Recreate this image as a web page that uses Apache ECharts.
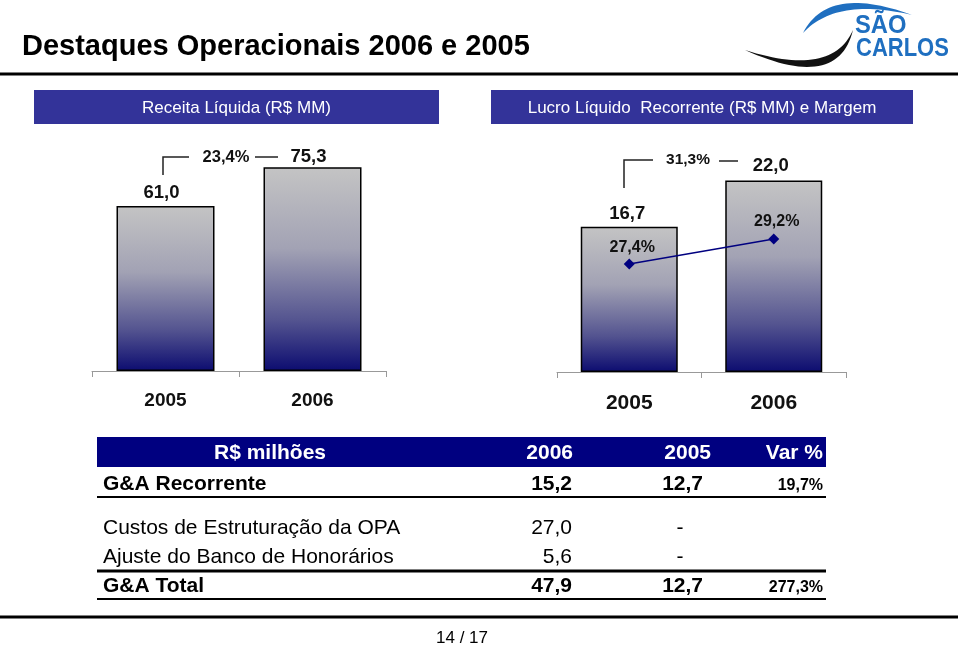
<!DOCTYPE html>
<html><head><meta charset="utf-8">
<script src="https://cdn.jsdelivr.net/npm/echarts@6/dist/echarts.min.js"></script>
<style>html,body{margin:0;padding:0;background:#fff}#c{width:960px;height:647px}</style>
</head><body><div id="c"></div>
<script>
// ---- data ----
const years = ['2005', '2006'];
const receita = [61.0, 75.3];
const lucro = [16.7, 22.0];
const margem = [27.4, 29.2];
const growthReceita = '23,4%';
const growthLucro = '31,3%';
const titleText = 'Destaques Operacionais 2006 e 2005';
const panelTitles = ['Receita Líquida (R$ MM)', 'Lucro Líquido  Recorrente (R$ MM) e Margem'];
const tableHeader = ['R$ milhões', '2006', '2005', 'Var %'];
const rowLabels = ['G&A Recorrente', 'Custos de Estruturação da OPA', 'Ajuste do Banco de Honorários', 'G&A Total'];
const rowBold = [true, false, false, true];
const col2006 = ['15,2', '27,0', '5,6', '47,9'];
const col2005 = ['12,7', '-', '-', '12,7'];
const colVar = ['19,7%', '', '', '277,3%'];
const pageText = '14 / 17';

// ---- helpers ----
const FONT = 'Liberation Sans, Arial, sans-serif';
const fmt = v => v.toFixed(1).replace('.', ',');
const barGrad = {type: 'linear', x: 0, y: 0, x2: 0, y2: 1, colorStops: [
  {offset: 0, color: '#c4c4c4'}, {offset: 0.4, color: '#a2a2b4'}, {offset: 0.75, color: '#545490'}, {offset: 1, color: '#0c0c70'}]};

function quad(p0, c, p2, n) {
  const pts = [];
  for (let i = 0; i <= n; i++) {
    const t = i / n, u = 1 - t;
    pts.push([u*u*p0[0] + 2*u*t*c[0] + t*t*p2[0], u*u*p0[1] + 2*u*t*c[1] + t*t*p2[1]]);
  }
  return pts;
}
function crescent(p0, p2, cOuter, cInner) {
  const a = quad(p0, cOuter, p2, 30);
  const b = quad(p2, cInner, p0, 30);
  return a.concat(b);
}

const chart = echarts.init(document.getElementById('c'), null, {renderer: 'canvas'});

const leftOffsets = [[-4, 1], [-4, 4]];
const rightOffsets = [[-2, 2], [-3, 0]];
const lineOffsets = [[3, 2], [3, 1]];

const graphics = [];
// title
graphics.push({type: 'text', left: 22, top: 32, style: {text: titleText, font: 'bold 29px ' + FONT, fill: '#000'}});
graphics.push({type: 'line', shape: {x1: 0, y1: 74, x2: 958, y2: 74}, style: {stroke: '#000', lineWidth: 3}});
// logo
graphics.push({type: 'polygon', shape: {points: crescent([803, 33], [912, 15], [828, -16], [836, -3])}, style: {fill: '#1f6fc0'}});
graphics.push({type: 'polygon', shape: {points: crescent([745, 50], [853, 30], [838, 92], [832, 78])}, style: {fill: '#111'}});
graphics.push({type: 'text', x: 855, y: 26, scaleX: 0.95, style: {text: 'SÃO', font: 'bold 25px ' + FONT, fill: '#1f6fc0', textVerticalAlign: 'middle'}});
graphics.push({type: 'text', x: 856, y: 49, scaleX: 0.88, style: {text: 'CARLOS', font: 'bold 25px ' + FONT, fill: '#1f6fc0', textVerticalAlign: 'middle'}});
// panel header boxes
graphics.push({type: 'rect', shape: {x: 34, y: 90, width: 405, height: 34}, style: {fill: '#333399'}});
graphics.push({type: 'rect', shape: {x: 491, y: 90, width: 422, height: 34}, style: {fill: '#333399'}});
graphics.push({type: 'text', x: 236.5, y: 108, style: {text: panelTitles[0], font: '17px ' + FONT, fill: '#fff', textAlign: 'center', textVerticalAlign: 'middle'}});
graphics.push({type: 'text', x: 702, y: 108, style: {text: panelTitles[1], font: '17px ' + FONT, fill: '#fff', textAlign: 'center', textVerticalAlign: 'middle'}});
// growth brackets
graphics.push({type: 'polyline', shape: {points: [[163, 175], [163, 157], [189, 157]]}, style: {stroke: '#222', lineWidth: 1.5, fill: null}});
graphics.push({type: 'line', shape: {x1: 255, y1: 157, x2: 278, y2: 157}, style: {stroke: '#222', lineWidth: 1.5}});
graphics.push({type: 'text', x: 226, y: 157, style: {text: growthReceita, font: 'bold 16.5px ' + FONT, fill: '#111', textAlign: 'center', textVerticalAlign: 'middle'}});
graphics.push({type: 'polyline', shape: {points: [[624, 188], [624, 160], [653, 160]]}, style: {stroke: '#222', lineWidth: 1.5, fill: null}});
graphics.push({type: 'line', shape: {x1: 719, y1: 161, x2: 738, y2: 161}, style: {stroke: '#222', lineWidth: 1.5}});
graphics.push({type: 'text', x: 688, y: 160, style: {text: growthLucro, font: 'bold 15.5px ' + FONT, fill: '#111', textAlign: 'center', textVerticalAlign: 'middle'}});
// table
graphics.push({type: 'rect', shape: {x: 97, y: 437, width: 729, height: 30}, style: {fill: '#000080'}});
const hdrX = [270, 573, 711, 823];
const hdrAlign = ['center', 'right', 'right', 'right'];
tableHeader.forEach((t, i) => graphics.push({type: 'text', x: hdrX[i], y: 453, style: {text: t, font: 'bold 21px ' + FONT, fill: '#fff', textAlign: hdrAlign[i], textVerticalAlign: 'middle'}}));
const rowY = [484, 528, 557, 586];
rowLabels.forEach((lab, r) => {
  const w = rowBold[r] ? 'bold ' : '';
  graphics.push({type: 'text', x: 103, y: rowY[r], style: {text: lab, font: w + '21px ' + FONT, fill: '#000', textVerticalAlign: 'middle'}});
  graphics.push({type: 'text', x: 572, y: rowY[r], style: {text: col2006[r], font: w + '21px ' + FONT, fill: '#000', textAlign: 'right', textVerticalAlign: 'middle'}});
  if (col2005[r] === '-') {
    graphics.push({type: 'text', x: 680, y: rowY[r], style: {text: col2005[r], font: '21px ' + FONT, fill: '#000', textAlign: 'center', textVerticalAlign: 'middle'}});
  } else {
    graphics.push({type: 'text', x: 703, y: rowY[r], style: {text: col2005[r], font: w + '21px ' + FONT, fill: '#000', textAlign: 'right', textVerticalAlign: 'middle'}});
  }
  if (colVar[r]) graphics.push({type: 'text', x: 823, y: rowY[r] + 2, style: {text: colVar[r], font: 'bold 16px ' + FONT, fill: '#000', textAlign: 'right', textVerticalAlign: 'middle'}});
});
graphics.push({type: 'line', shape: {x1: 97, y1: 497, x2: 826, y2: 497}, style: {stroke: '#000', lineWidth: 2}});
graphics.push({type: 'line', shape: {x1: 97, y1: 571, x2: 826, y2: 571}, style: {stroke: '#000', lineWidth: 3}});
graphics.push({type: 'line', shape: {x1: 97, y1: 599, x2: 826, y2: 599}, style: {stroke: '#000', lineWidth: 2}});
graphics.push({type: 'line', shape: {x1: 0, y1: 617, x2: 958, y2: 617}, style: {stroke: '#000', lineWidth: 3}});
graphics.push({type: 'text', x: 462, y: 638, style: {text: pageText, font: '17px ' + FONT, fill: '#000', textAlign: 'center', textVerticalAlign: 'middle'}});

const axisCommon = {
  type: 'category', data: years, boundaryGap: true,
  axisLine: {lineStyle: {color: '#999', width: 1}},
  axisTick: {show: true, inside: false, length: 6, lineStyle: {color: '#999'}},
  axisLabel: {fontFamily: FONT, fontWeight: 'bold', color: '#111'}
};

chart.setOption({
  animation: false,
  backgroundColor: '#fff',
  grid: [
    {left: 92, width: 294, top: 100.5, height: 270.5},
    {left: 557, width: 289, top: 111, height: 261}
  ],
  xAxis: [
    Object.assign({}, axisCommon, {gridIndex: 0, axisLabel: Object.assign({}, axisCommon.axisLabel, {fontSize: 19, margin: 20})}),
    Object.assign({}, axisCommon, {gridIndex: 1, axisLabel: Object.assign({}, axisCommon.axisLabel, {fontSize: 21, margin: 21})})
  ],
  yAxis: [
    {gridIndex: 0, type: 'value', min: 0, max: 100, show: false},
    {gridIndex: 1, type: 'value', min: 0, max: 30, show: false},
    {gridIndex: 1, type: 'value', min: 19.62, max: 38.41, show: false}
  ],
  series: [
    {type: 'bar', xAxisIndex: 0, yAxisIndex: 0, barWidth: 98,
     itemStyle: {color: barGrad, borderColor: '#000', borderWidth: 1.5},
     data: receita.map((v, i) => ({value: v, label: {offset: leftOffsets[i]}})),
     label: {show: true, position: 'top', distance: 5, formatter: p => fmt(p.value), fontFamily: FONT, fontWeight: 'bold', fontSize: 18.5, color: '#111'}},
    {type: 'bar', xAxisIndex: 1, yAxisIndex: 1, barWidth: 97,
     itemStyle: {color: barGrad, borderColor: '#000', borderWidth: 1.5},
     data: lucro.map((v, i) => ({value: v, label: {offset: rightOffsets[i]}})),
     label: {show: true, position: 'top', distance: 5, formatter: p => fmt(p.value), fontFamily: FONT, fontWeight: 'bold', fontSize: 18.5, color: '#111'}},
    {type: 'line', xAxisIndex: 1, yAxisIndex: 2, symbol: 'diamond', symbolSize: 11,
     lineStyle: {color: '#000080', width: 1.5}, itemStyle: {color: '#000080'},
     data: margem.map((v, i) => ({value: v, label: {offset: lineOffsets[i]}})),
     label: {show: true, position: 'top', distance: 5, formatter: p => fmt(p.value) + '%', fontFamily: FONT, fontWeight: 'bold', fontSize: 16, color: '#111'}}
  ],
  graphic: graphics
});
</script></body></html>
